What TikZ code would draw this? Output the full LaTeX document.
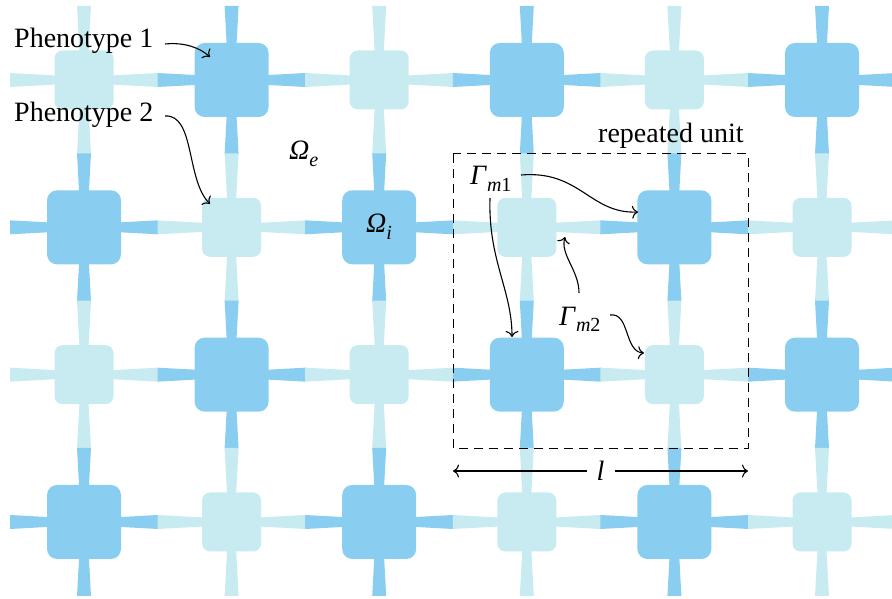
\documentclass[tikz,border=0pt]{standalone}
\usepackage{fontspec}
\setmainfont{Liberation Serif}
\usetikzlibrary{arrows.meta}
\definecolor{cdark}{RGB}{137,206,240}
\definecolor{clight}{RGB}{199,235,241}
\newcommand{\lbl}{\fontsize{28}{30}\selectfont}
\newcommand{\sbs}[1]{\raisebox{-0.22em}{\fontsize{20}{20}\selectfont #1}}
\tikzset{
  bigcell/.style={fill=cdark, draw=none, rounded corners=10pt, minimum size=74pt, inner sep=0pt},
  smallcell/.style={fill=clight, draw=none, rounded corners=8pt, minimum size=59pt, inner sep=0pt},
  txt/.style={anchor=base west, inner sep=0pt, font=\lbl},
  lab/.style={->, line width=1.1pt, black},
  unitbox/.style={dashed, dash pattern=on 9pt off 6pt, line width=1pt},
  >={To[length=6pt,width=13pt]}
}
\begin{document}
\begin{tikzpicture}[x=1pt,y=-1pt]
\useasboundingbox (0,0) rectangle (892,599);
\clip (0,0) rectangle (892,599);
% arms
\foreach \r in {0,...,3}{
  \foreach \c in {0,...,5}{
    \pgfmathsetmacro{\xx}{84+147.6*\c}
    \pgfmathsetmacro{\yy}{80+147.33*\r}
    \pgfmathtruncatemacro{\parity}{mod(\r+\c,2)}
    \ifnum\parity=1 \def\col{cdark}\else\def\col{clight}\fi
    \begin{scope}[shift={(\xx,\yy)}]
      \foreach \a in {0,90,180,270}{
        \fill[\col, rotate=\a] (0,-3) -- (74,-7) -- (74,7) -- (0,3) -- cycle;
      }
    \end{scope}
  }
}
% cells
\foreach \r in {0,...,3}{
  \foreach \c in {0,...,5}{
    \pgfmathsetmacro{\xx}{84+147.6*\c}
    \pgfmathsetmacro{\yy}{80+147.33*\r}
    \pgfmathtruncatemacro{\parity}{mod(\r+\c,2)}
    \ifnum\parity=1
      \node[bigcell] (c\r\c) at (\xx,\yy) {};
    \else
      \node[smallcell] (c\r\c) at (\xx,\yy) {};
    \fi
  }
}
% labels
\node[txt] (ph1) at (14,48) {Phenotype 1};
\node[txt] (ph2) at (14,122) {Phenotype 2};
\node[txt] (ome) at (289,160) {\textit{Ω}\sbs{\textit{e}}};
\node[txt] (omi) at (366,233) {\textit{Ω}\sbs{\textit{i}}};
\node[txt] (rep) at (598,143) {repeated unit};
\node[txt] (g1) at (470,185) {\textit{Γ}\sbs{\textit{m}1}};
\node[txt] (g2) at (559,325) {\textit{Γ}\sbs{\textit{m}2}};
% unit box
\coordinate (ub1) at (453,154);
\coordinate (ub2) at (748,448);
\draw[unitbox] (ub1) rectangle (ub2);
% length arrow
\coordinate (la) at (453,471);
\coordinate (lb) at (748,471);
\draw[<->, line width=1.1pt] (la) -- node[fill=white, inner sep=0pt, minimum width=28pt, minimum height=26pt, font=\lbl] (ll) {\textit{l}} (lb);
% targets
\coordinate (t1) at (210,57);
\coordinate (t2) at (210,204);
\coordinate (t3) at (638,212);
\coordinate (t4) at (512,337);
\coordinate (t5) at (565,237);
\coordinate (t6) at (644,353);
\coordinate (s1) at (165,44);
\coordinate (s2) at (165,116);
\coordinate (s3) at (521,175);
\coordinate (s4) at (490,198);
\coordinate (s5) at (579,293);
\coordinate (s6) at (610,315);
\draw[lab] (s1) .. controls (185,42) and (200,48) .. (t1);
\draw[lab] (s2) .. controls (195,114) and (186,180) .. (t2);
\draw[lab] (s3) .. controls (580,170) and (590,214) .. (t3);
\draw[lab] (s4) .. controls (488,260) and (512,290) .. (t4);
\draw[lab] (s5) .. controls (579,270) and (560,255) .. (t5);
\draw[lab] (s6) .. controls (630,312) and (624,352) .. (t6);
\end{tikzpicture}
\end{document}
